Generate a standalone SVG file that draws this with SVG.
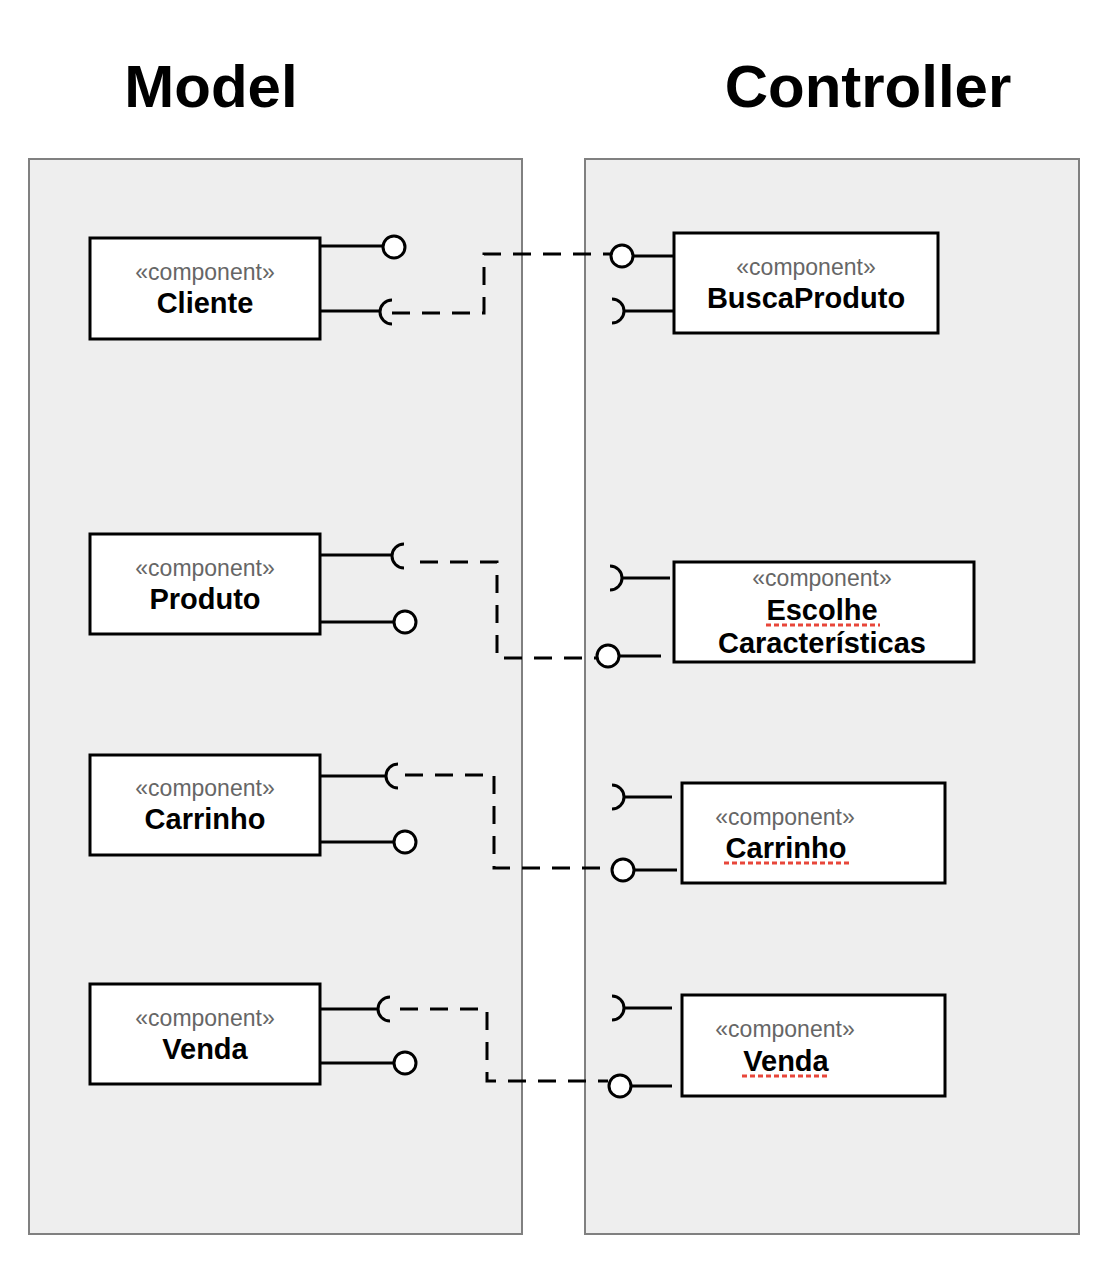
<svg xmlns="http://www.w3.org/2000/svg" width="1112" height="1266" viewBox="0 0 1112 1266">
<style>
.title{font-family:"Liberation Sans",Arial,sans-serif;font-weight:bold;font-size:60px;fill:#000;text-anchor:middle}
.ster{font-family:"Liberation Sans",Arial,sans-serif;font-size:23px;fill:#666;text-anchor:middle}
.name{font-family:"Liberation Sans",Arial,sans-serif;font-weight:bold;font-size:29px;fill:#000;text-anchor:middle}
.cont{fill:#eeeeee;stroke:#808080;stroke-width:2}
.box{fill:#fff;stroke:#000;stroke-width:3}
.ln{fill:none;stroke:#000;stroke-width:3}
.ball{fill:#fff;stroke:#000;stroke-width:3}
.dash{fill:none;stroke:#000;stroke-width:3;stroke-dasharray:18 12}
.spell{fill:none;stroke:#e8463a;stroke-width:3;stroke-dasharray:5 3}
</style>
<rect width="1112" height="1266" fill="#fff"/>
<text class="title" x="211" y="107">Model</text>
<text class="title" x="868" y="107">Controller</text>
<g id="model"><rect class="cont" x="29" y="159" width="493" height="1075"/></g>
<g id="controller"><rect class="cont" x="585" y="159" width="494" height="1075"/></g>

<g id="connectors">
<path class="dash" d="M392,313 H484 V254 H611"/>
<path class="dash" d="M420,562 H497 V658 H597"/>
<path class="dash" d="M405,775 H494 V868 H612"/>
<path class="dash" d="M400,1009 H487 V1081 H608"/>
</g>

<g id="m-cliente">
<rect class="box" x="90" y="238" width="230" height="101"/>
<text class="ster" x="205" y="280">«component»</text>
<text class="name" x="205" y="313">Cliente</text>
<path class="ln" d="M320,246 H383"/>
<circle class="ball" cx="394" cy="247" r="11"/>
<path class="ln" d="M320,311 H380"/>
<path class="ln" d="M392,300 A12,12 0 0 0 392,324"/>
</g>

<g id="m-produto">
<rect class="box" x="90" y="534" width="230" height="100"/>
<text class="ster" x="205" y="576">«component»</text>
<text class="name" x="205" y="609">Produto</text>
<path class="ln" d="M320,555 H392"/>
<path class="ln" d="M404,544 A12,12 0 0 0 404,568"/>
<path class="ln" d="M320,622 H394"/>
<circle class="ball" cx="405" cy="622" r="11"/>
</g>

<g id="m-carrinho">
<rect class="box" x="90" y="755" width="230" height="100"/>
<text class="ster" x="205" y="796">«component»</text>
<text class="name" x="205" y="829">Carrinho</text>
<path class="ln" d="M320,776 H386"/>
<path class="ln" d="M398,764 A12,12 0 0 0 398,788"/>
<path class="ln" d="M320,842 H394"/>
<circle class="ball" cx="405" cy="842" r="11"/>
</g>

<g id="m-venda">
<rect class="box" x="90" y="984" width="230" height="100"/>
<text class="ster" x="205" y="1026">«component»</text>
<text class="name" x="205" y="1059">Venda</text>
<path class="ln" d="M320,1009 H378"/>
<path class="ln" d="M390,997 A12,12 0 0 0 390,1021"/>
<path class="ln" d="M320,1063 H394"/>
<circle class="ball" cx="405" cy="1063" r="11"/>
</g>

<g id="c-buscaproduto">
<rect class="box" x="674" y="233" width="264" height="100"/>
<text class="ster" x="806" y="275">«component»</text>
<text class="name" x="806" y="308">BuscaProduto</text>
<circle class="ball" cx="622" cy="256" r="11"/>
<path class="ln" d="M633,256 H674"/>
<path class="ln" d="M612,299 A12,12 0 0 1 612,323"/>
<path class="ln" d="M624,311 H674"/>
</g>

<g id="c-escolhe">
<rect class="box" x="674" y="562" width="300" height="100"/>
<text class="ster" x="822" y="586">«component»</text>
<text class="name" x="822" y="620">Escolhe</text>
<text class="name" x="822" y="653">Características</text>
<path class="spell" d="M766,625 H880"/>
<path class="ln" d="M610,566 A12,12 0 0 1 610,590"/>
<path class="ln" d="M622,578 H670"/>
<circle class="ball" cx="608" cy="656" r="11"/>
<path class="ln" d="M619,656 H661"/>
</g>

<g id="c-carrinho">
<rect class="box" x="682" y="783" width="263" height="100"/>
<text class="ster" x="785" y="825">«component»</text>
<text class="name" x="786" y="858">Carrinho</text>
<path class="spell" d="M724,863 H850"/>
<path class="ln" d="M612,785 A12,12 0 0 1 612,809"/>
<path class="ln" d="M624,797 H672"/>
<circle class="ball" cx="623" cy="870" r="11"/>
<path class="ln" d="M634,870 H677"/>
</g>

<g id="c-venda">
<rect class="box" x="682" y="995" width="263" height="101"/>
<text class="ster" x="785" y="1037">«component»</text>
<text class="name" x="786" y="1071">Venda</text>
<path class="spell" d="M742,1076 H830"/>
<path class="ln" d="M612,996 A12,12 0 0 1 612,1020"/>
<path class="ln" d="M624,1008 H672"/>
<circle class="ball" cx="620" cy="1086" r="11"/>
<path class="ln" d="M631,1086 H672"/>
</g>
</svg>
